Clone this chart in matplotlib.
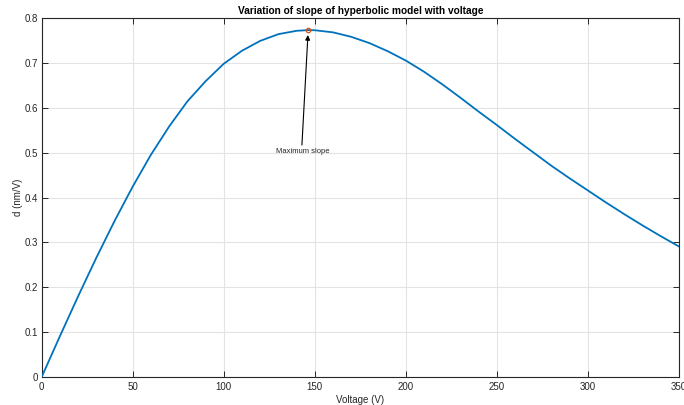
import matplotlib
matplotlib.use("Agg")
import matplotlib.pyplot as plt

plt.rcParams['font.family'] = ['Liberation Sans', 'DejaVu Sans']

# slope of the hyperbolic model, read at a set of voltages
voltage = [0, 10, 20, 30, 40, 50, 60, 70, 80, 90, 100, 110, 120, 130, 140,
           146.3, 150, 160, 170, 180, 190, 200, 210, 220, 230, 240, 250,
           260, 270, 280, 290, 300, 310, 320, 330, 340, 350]
slope = [0, 0.091, 0.180, 0.266, 0.348, 0.425, 0.496, 0.559, 0.615, 0.660, 0.699,
         0.728, 0.750, 0.765, 0.7725, 0.774, 0.7737, 0.769, 0.759, 0.745, 0.727,
         0.706, 0.681, 0.653, 0.623, 0.592, 0.562, 0.531, 0.501, 0.471, 0.443,
         0.416, 0.389, 0.363, 0.338, 0.314, 0.291]

v_max = 146.3
d_max = 0.774

fig = plt.figure(figsize=(6.84, 4.05), dpi=100)
ax = fig.add_axes([0.061, 0.0694, 0.9317, 0.885])

ax.plot(voltage, slope, color='#0072BD', lw=1.3, zorder=3)
ax.plot([v_max], [d_max], 'o', mfc='none', mec='#D95319', ms=3.2, mew=0.9, zorder=4)

# arrow pointing at the maximum, label just below its tail
ax.annotate('', xy=(146.2, 0.763), xytext=(142.9, 0.5176),
            arrowprops=dict(arrowstyle='-|>', color='black', lw=0.8,
                            mutation_scale=7, shrinkA=0, shrinkB=0))
ax.text(143.3, 0.503, 'Maximum slope', ha='center', va='center',
        fontsize=5.5, color='#262626')

ax.set_xlim(0, 350)
ax.set_ylim(0, 0.8)
ax.set_xticks(range(0, 351, 50))
ax.set_yticks([0, 0.1, 0.2, 0.3, 0.4, 0.5, 0.6, 0.7, 0.8])
ax.set_yticklabels(['0', '0.1', '0.2', '0.3', '0.4', '0.5', '0.6', '0.7', '0.8'])

ax.grid(True, color='#e3e3e3', lw=0.8)
ax.set_axisbelow(True)
ax.tick_params(direction='in', length=4, width=0.7, top=True, right=True,
               labelsize=7, colors='#262626')
ax.tick_params(axis='y', pad=2.5)
ax.tick_params(axis='x', pad=3.5)
for s in ax.spines.values():
    s.set_color('#262626')
    s.set_linewidth(0.8)

ax.set_title('Variation of slope of hyperbolic model with voltage',
             fontsize=7.3, fontweight='bold', pad=3)
ax.set_xlabel('Voltage (V)', fontsize=7, color='#262626', labelpad=2)
ax.set_ylabel('d (nm/V)', fontsize=7, color='#262626')
ax.yaxis.set_label_coords(-0.03, 0.502)

fig.savefig('out.png', dpi=100)
